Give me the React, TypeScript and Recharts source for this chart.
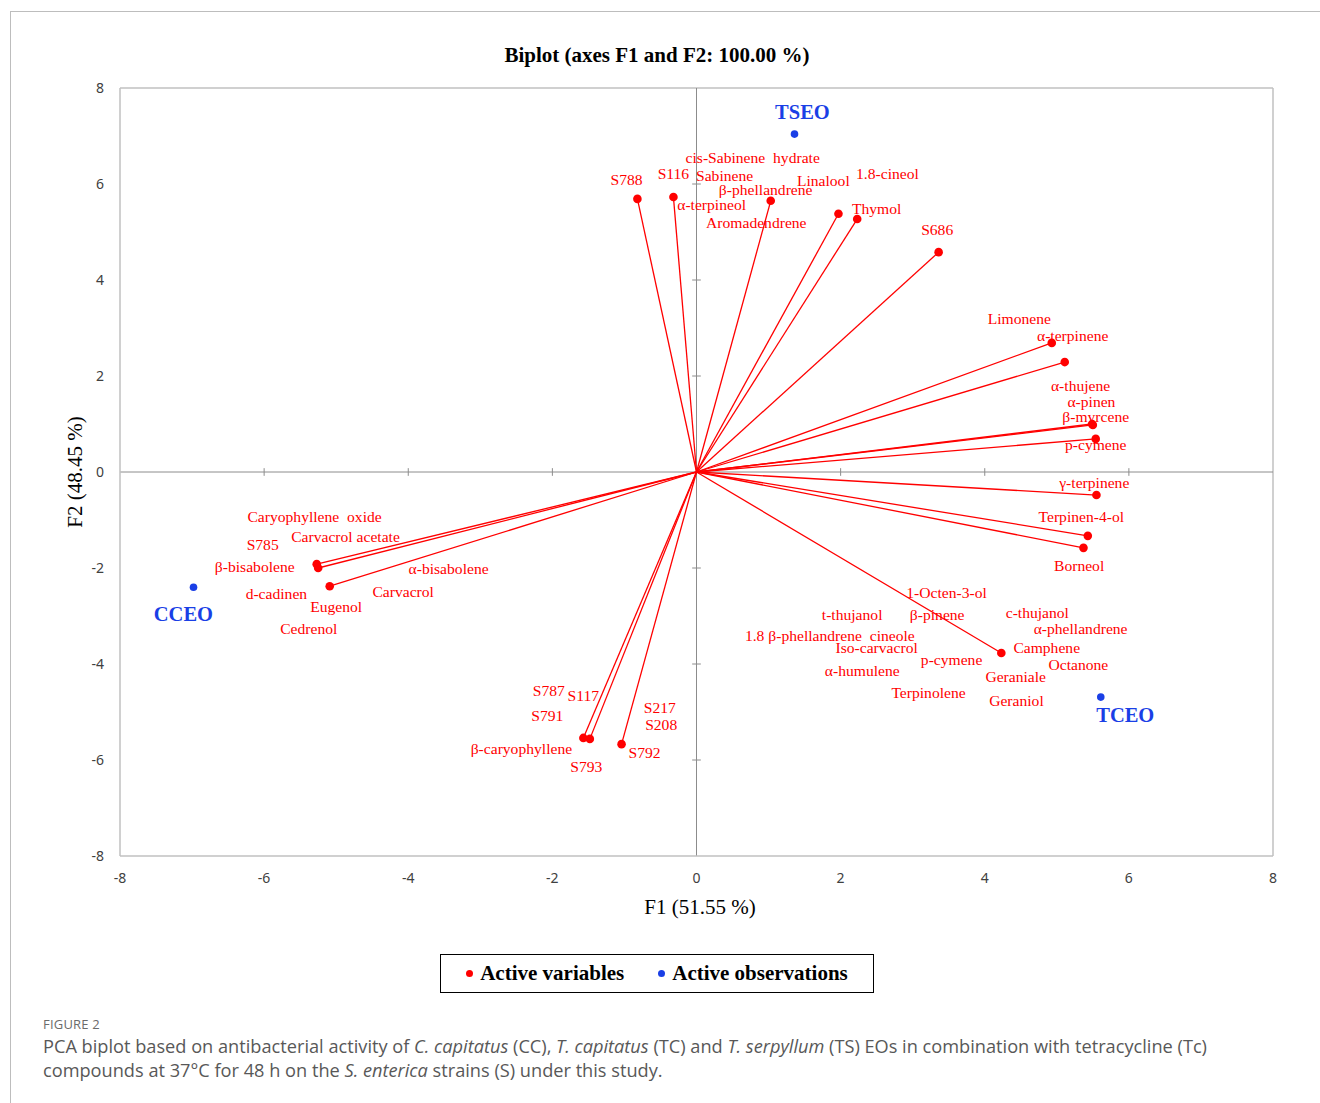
import React from "react";
import {
  ScatterChart,
  Scatter,
  XAxis,
  YAxis,
  ReferenceLine,
} from "recharts";

// F1 / F2 coordinates of the active variables (red vectors)
const variableF1 = [-0.82, -0.32, 1.03, 1.97, 2.23, 3.36, 4.93, 5.11, 5.5, 5.49, 5.54, 5.55, 5.43, 5.37, 4.23, -1.04, -1.57, -1.48, -5.09, -5.27, -5.25];
const variableF2 = [5.69, 5.73, 5.65, 5.38, 5.27, 4.58, 2.69, 2.29, 0.98, 1.0, 0.69, -0.48, -1.33, -1.58, -3.77, -5.67, -5.54, -5.56, -2.38, -1.92, -2.0];

// active observations (blue)
const observationNames = ["TSEO", "CCEO", "TCEO"];
const observationF1 = [1.36, -6.98, 5.61];
const observationF2 = [7.04, -2.4, -4.69];
const observationLabelF1 = [1.47, -7.12, 5.95];
const observationLabelF2 = [7.5, -2.96, -5.06];

// variable labels, as placed in the original figure
const labelTexts = [
  "cis-Sabinene  hydrate", "S788", "S116", "Sabinene", "β-phellandrene", "Linalool", "1.8-cineol",
  "α-terpineol", "Thymol", "Aromadendrene", "S686", "Limonene", "α-terpinene", "α-thujene",
  "α-pinen", "β-myrcene", "p-cymene", "γ-terpinene", "Terpinen-4-ol", "Borneol",
  "Caryophyllene  oxide", "S785", "Carvacrol acetate", "β-bisabolene", "α-bisabolene", "d-cadinen",
  "Carvacrol", "Eugenol", "Cedrenol", "1-Octen-3-ol", "t-thujanol", "β-pinene", "c-thujanol",
  "α-phellandrene", "1.8 β-phellandrene  cineole", "Iso-carvacrol", "Camphene", "p-cymene",
  "Octanone", "α-humulene", "Geraniale", "Terpinolene", "Geraniol", "S787", "S117", "S791",
  "S217", "S208", "β-caryophyllene", "S792", "S793",
];
const labelF1 = [
  0.78, -0.97, -0.32, 0.39, 0.96, 1.76, 2.65,
  0.21, 2.5, 0.83, 3.34, 4.48, 5.22, 5.33,
  5.48, 5.54, 5.54, 5.52, 5.34, 5.31,
  -5.3, -6.02, -4.87, -6.13, -3.44, -5.83,
  -4.07, -5.0, -5.38, 3.47, 2.16, 3.34, 4.73,
  5.33, 1.85, 2.5, 4.86, 3.54,
  5.3, 2.3, 4.43, 3.22, 4.44, -2.05, -1.57, -2.07,
  -0.51, -0.49, -2.43, -0.72, -1.53,
];
const labelF2 = [
  6.56, 6.1, 6.21, 6.17, 5.88, 6.08, 6.21,
  5.58, 5.48, 5.19, 5.06, 3.19, 2.85, 1.81,
  1.46, 1.15, 0.58, -0.21, -0.92, -1.94,
  -0.92, -1.5, -1.35, -1.96, -2.02, -2.54,
  -2.48, -2.81, -3.27, -2.52, -2.96, -2.96, -2.92,
  -3.25, -3.4, -3.65, -3.65, -3.9,
  -4.02, -4.13, -4.27, -4.6, -4.75, -4.56, -4.65, -5.08,
  -4.9, -5.27, -5.75, -5.85, -6.13,
];

const axisTicks = [-8, -6, -4, -2, 0, 2, 4, 6, 8];

const RED = "#ff0000";
const BLUE = "#1a3fe6";
const SERIF = "'Liberation Serif', 'Times New Roman', serif";

const variables = variableF1.map((x, i) => ({ x, y: variableF2[i] }));
const observations = observationNames.map((name, i) => ({ name, x: observationF1[i], y: observationF2[i] }));
const observationLabels = observationNames.map((text, i) => ({ text, x: observationLabelF1[i], y: observationLabelF2[i] }));
const variableLabels = labelTexts.map((text, i) => ({ text, x: labelF1[i], y: labelF2[i] }));
const innerTicks = axisTicks.filter((t) => t !== 0 && Math.abs(t) !== 8);

export default function App() {
  return (
    <div
      style={{
        position: "absolute",
        left: 0,
        top: 0,
        width: 1320,
        height: 1103,
        background: "#fff",
        overflow: "hidden",
      }}
    >
      {/* figure frame */}
      <div
        style={{
          position: "absolute",
          left: 10,
          top: 11,
          width: 1330,
          height: 1120,
          borderLeft: "1px solid #bdbdbd",
          borderTop: "1px solid #bdbdbd",
        }}
      />

      <div
        style={{
          position: "absolute",
          left: 0,
          top: 42,
          width: 1314,
          textAlign: "center",
          fontFamily: SERIF,
          fontWeight: "bold",
          fontSize: 21,
          lineHeight: "26px",
          color: "#000",
        }}
      >
        Biplot (axes F1 and F2: 100.00 %)
      </div>

      <div style={{ position: "absolute", left: 0, top: 0 }}>
        <ScatterChart width={1320} height={1000} margin={{ top: 88, right: 47, bottom: 84, left: 60 }}>
          <XAxis
            type="number"
            dataKey="x"
            domain={[-8, 8]}
            ticks={axisTicks}
            allowDataOverflow
            tickLine={false}
            axisLine={{ stroke: "#c0c0c0", strokeWidth: 1.5 }}
            tickMargin={11}
            height={60}
            tick={{ fill: "#404040", fontSize: 14, fontFamily: "'Noto Sans', sans-serif" }}
          />
          <YAxis
            type="number"
            dataKey="y"
            domain={[-8, 8]}
            ticks={axisTicks}
            allowDataOverflow
            tickLine={false}
            axisLine={{ stroke: "#c0c0c0", strokeWidth: 1.5 }}
            tickMargin={10}
            width={60}
            tick={{ fill: "#404040", fontSize: 14, fontFamily: "'Noto Sans', sans-serif" }}
          />

          {/* plot frame */}
          <ReferenceLine y={8} stroke="#c0c0c0" strokeWidth={1.5} />
          <ReferenceLine x={8} stroke="#c0c0c0" strokeWidth={1.5} />

          {/* zero axes with small ticks */}
          <ReferenceLine y={0} stroke="#8c8c8c" strokeWidth={1} />
          <ReferenceLine x={0} stroke="#8c8c8c" strokeWidth={1} />
          {innerTicks.map((t) => (
            <ReferenceLine
              key={"tx" + t}
              segment={[{ x: t, y: -0.08 }, { x: t, y: 0.08 }]}
              stroke="#8c8c8c"
            />
          ))}
          {innerTicks.map((t) => (
            <ReferenceLine
              key={"ty" + t}
              segment={[{ x: -0.06, y: t }, { x: 0.06, y: t }]}
              stroke="#8c8c8c"
            />
          ))}

          {/* variable vectors */}
          {variables.map((v, i) => (
            <ReferenceLine
              key={"v" + i}
              segment={[{ x: 0, y: 0 }, { x: v.x, y: v.y }]}
              stroke={RED}
              strokeWidth={1.3}
            />
          ))}

          <Scatter
            data={variables}
            isAnimationActive={false}
            shape={(p: any) => <circle cx={p.cx} cy={p.cy} r={4.3} fill={RED} />}
          />
          <Scatter
            data={observations}
            isAnimationActive={false}
            shape={(p: any) => <circle cx={p.cx} cy={p.cy} r={3.8} fill={BLUE} />}
          />
          <Scatter
            data={variableLabels}
            isAnimationActive={false}
            shape={(p: any) => (
              <text
                x={p.cx}
                y={p.cy}
                textAnchor="middle"
                dominantBaseline="central"
                fill={RED}
                fontSize={15.6}
                fontFamily={SERIF}
                style={{ whiteSpace: "pre" }}
              >
                {p.payload.text}
              </text>
            )}
          />
          <Scatter
            data={observationLabels}
            isAnimationActive={false}
            shape={(p: any) => (
              <text
                x={p.cx}
                y={p.cy}
                textAnchor="middle"
                dominantBaseline="central"
                fill={BLUE}
                fontSize={20.5}
                fontWeight="bold"
                fontFamily={SERIF}
              >
                {p.payload.text}
              </text>
            )}
          />
        </ScatterChart>
      </div>

      {/* axis titles */}
      <div
        style={{
          position: "absolute",
          left: 600,
          top: 894,
          width: 200,
          textAlign: "center",
          fontFamily: SERIF,
          fontSize: 21,
          lineHeight: "26px",
          color: "#000",
        }}
      >
        F1 (51.55 %)
      </div>
      <div
        style={{
          position: "absolute",
          left: 75 - 100,
          top: 472 - 13,
          width: 200,
          height: 26,
          lineHeight: "26px",
          textAlign: "center",
          fontFamily: SERIF,
          fontSize: 21,
          color: "#000",
          transform: "rotate(-90deg)",
        }}
      >
        F2 (48.45 %)
      </div>

      {/* legend */}
      <div
        style={{
          position: "absolute",
          left: 440,
          top: 954,
          width: 432,
          height: 37,
          border: "1px solid #000",
          display: "flex",
          alignItems: "center",
          justifyContent: "center",
          gap: 34,
          fontFamily: SERIF,
          fontWeight: "bold",
          fontSize: 21,
          color: "#000",
        }}
      >
        <span style={{ display: "flex", alignItems: "center", gap: 7 }}>
          <span style={{ width: 7, height: 7, borderRadius: "50%", background: RED, display: "inline-block" }} />
          Active variables
        </span>
        <span style={{ display: "flex", alignItems: "center", gap: 7 }}>
          <span style={{ width: 7, height: 7, borderRadius: "50%", background: BLUE, display: "inline-block" }} />
          Active observations
        </span>
      </div>

      {/* caption */}
      <div
        style={{
          position: "absolute",
          left: 43,
          top: 1015,
          fontFamily: "'Open Sans', sans-serif",
          fontSize: 13,
          color: "#6b6b6b",
          letterSpacing: 0.2,
        }}
      >
        FIGURE 2
      </div>
      <div
        style={{
          position: "absolute",
          left: 43,
          top: 1034,
          width: 1270,
          fontFamily: "'Open Sans', sans-serif",
          fontSize: 18.2,
          lineHeight: "24px",
          color: "#585858",
          whiteSpace: "nowrap",
        }}
      >
        PCA biplot based on antibacterial activity of <i>C. capitatus</i> (CC), <i>T. capitatus</i> (TC) and{" "}
        <i>T. serpyllum</i> (TS) EOs in combination with tetracycline (Tc)
        <br />
        compounds at 37°C for 48 h on the <i>S. enterica</i> strains (S) under this study.
      </div>
    </div>
  );
}
